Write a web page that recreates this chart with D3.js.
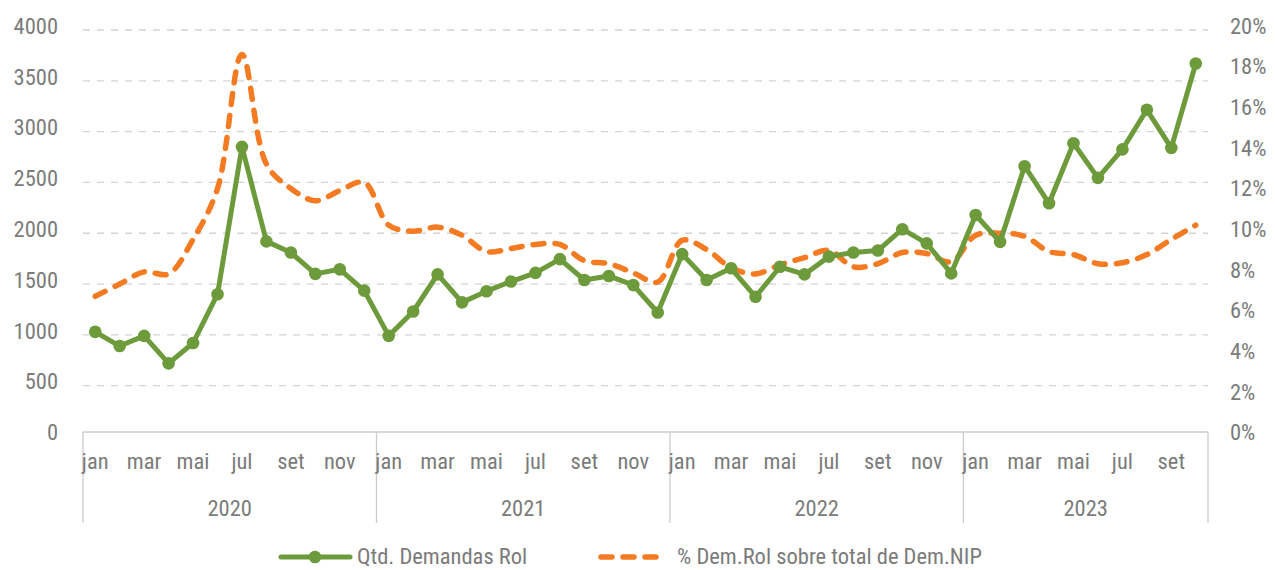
<!DOCTYPE html>
<html>
<head>
<meta charset="utf-8">
<script src="https://cdn.jsdelivr.net/npm/d3@7"></script>
<style>
  body { margin: 0; background: #fff; }
  text { font-family: "Liberation Sans Narrow", "Arial Narrow", "Roboto Condensed", sans-serif; fill: #7b7b7b; }
</style>
</head>
<body>
<div id="container"></div>
<script>
/* chart data */
var months = ["jan","fev","mar","abr","mai","jun","jul","ago","set","out","nov","dez"];
var years = ["2020","2021","2022","2023"];
var lastYearMonths = 10;  // 2023 goes up to out

// Qtd. Demandas Rol (left axis)
var qtd = [1030, 890, 990, 720, 920, 1400, 2850, 1920, 1810, 1600, 1645, 1435,
           990, 1230, 1595, 1320, 1430, 1525, 1610, 1745, 1540, 1580, 1490, 1220,
           1795, 1540, 1655, 1375, 1670, 1595, 1770, 1810, 1830, 2040, 1900, 1605,
           2180, 1915, 2660, 2295, 2885, 2545, 2825, 3215, 2840, 3670];

// % Dem.Rol sobre total de Dem.NIP (right axis)
var pct = [0.069, 0.075, 0.081, 0.080, 0.097, 0.122, 0.188, 0.134, 0.122, 0.116, 0.121, 0.125,
           0.104, 0.101, 0.103, 0.099, 0.091, 0.0925, 0.0945, 0.0945, 0.0865, 0.085, 0.0805, 0.076,
           0.0965, 0.092, 0.083, 0.080, 0.0845, 0.088, 0.0915, 0.0835, 0.085, 0.0905, 0.090, 0.086,
           0.099, 0.100, 0.0985, 0.091, 0.0895, 0.085, 0.0855, 0.0895, 0.097, 0.104];

var leftTicks = d3.range(0, 4001, 500);
var rightTicks = d3.range(0, 0.201, 0.02);

var seriesNames = ["Qtd. Demandas Rol", "% Dem.Rol sobre total de Dem.NIP"];

/* categories: one per month */
var cats = [];
years.forEach(function(y, yi) {
  var n = (yi === years.length - 1) ? lastYearMonths : 12;
  for (var m = 0; m < n; ++m) cats.push({ year: y, month: months[m], m: m });
});

/* setup dimensions */
var width = 1275, height = 570;
var plot = { left: 83, right: 1208, top: 30, bottom: 436.5 };
var green = "#6d9b3c", orange = "#f47b22";
var fontSize = "22.5px";

var svg = d3.select("#container")
            .append("svg")
            .attr("width", width)
            .attr("height", height);

var x = d3.scaleBand()
          .domain(d3.range(cats.length))
          .range([plot.left, plot.right])
          .padding(0);
var cx = function(i) { return x(i) + x.bandwidth() / 2; };

var yL = d3.scaleLinear().domain([0, 4000]).range([plot.bottom, plot.top]);
var yR = d3.scaleLinear().domain([0, 0.20]).range([plot.bottom, plot.top]);

/* gridlines */
svg.append("g")
   .selectAll("line")
   .data(leftTicks.filter(function(d) { return d > 0; }))
   .enter().append("line")
     .attr("x1", plot.left)
     .attr("x2", plot.right)
     .attr("y1", function(d) { return yL(d); })
     .attr("y2", function(d) { return yL(d); })
     .attr("stroke", "#d4d4d4")
     .attr("stroke-width", 1.3)
     .attr("stroke-dasharray", "7,7");

/* left axis */
var gL = svg.append("g")
   .attr("transform", "translate(" + 58 + ",-4)")
   .call(d3.axisLeft(yL).tickValues(leftTicks).tickFormat(d3.format("d")).tickSize(0).tickPadding(0));
gL.select(".domain").remove();
gL.selectAll("text").style("font-size", fontSize).attr("fill", "#7b7b7b");

/* right axis */
var gR = svg.append("g")
   .attr("transform", "translate(" + 1230 + ",-4)")
   .call(d3.axisRight(yR).tickValues(rightTicks).tickFormat(d3.format(".0%")).tickSize(0).tickPadding(0));
gR.select(".domain").remove();
gR.selectAll("text").style("font-size", fontSize).attr("fill", "#7b7b7b");

/* category axis box */
var axisY = 432, boxBottom = 523;
svg.append("line")
   .attr("x1", plot.left).attr("x2", plot.right)
   .attr("y1", axisY).attr("y2", axisY)
   .attr("stroke", "#cccccc").attr("stroke-width", 1.3);

var sepIdx = [];
cats.forEach(function(c, i) { if (c.m === 0) sepIdx.push(i); });
svg.append("g")
   .selectAll("line")
   .data(sepIdx.concat([cats.length]))
   .enter().append("line")
     .attr("x1", function(i) { return i < cats.length ? x(i) : plot.right; })
     .attr("x2", function(i) { return i < cats.length ? x(i) : plot.right; })
     .attr("y1", axisY)
     .attr("y2", boxBottom)
     .attr("stroke", "#cccccc")
     .attr("stroke-width", 1.3);

/* month labels */
var gX = svg.append("g")
   .attr("transform", "translate(0," + 453 + ")")
   .call(d3.axisBottom(x)
     .tickValues(d3.range(0, cats.length, 2))
     .tickFormat(function(i) { return cats[i].month; })
     .tickSize(0).tickPadding(0));
gX.select(".domain").remove();
gX.selectAll("text").style("font-size", fontSize).attr("fill", "#7b7b7b");

/* year labels */
svg.append("g")
   .selectAll("text")
   .data(years)
   .enter().append("text")
     .attr("x", function(y) {
       var idx = cats.map(function(c) { return c.year; });
       var a = idx.indexOf(y), b = idx.lastIndexOf(y);
       return (x(a) + x(b) + x.bandwidth()) / 2;
     })
     .attr("y", 516)
     .attr("text-anchor", "middle")
     .style("font-size", fontSize)
     .text(function(y) { return y; });

/* % series (smoothed, dashed) */
svg.append("path")
   .datum(pct)
   .attr("fill", "none")
   .attr("stroke", orange)
   .attr("stroke-width", 5.5)
   .attr("stroke-linecap", "round")
   .attr("stroke-dasharray", "11,11")
   .attr("d", d3.line()
     .x(function(d, i) { return cx(i); })
     .y(function(d) { return yR(d); })
     .curve(d3.curveCatmullRom));

/* Qtd series */
svg.append("path")
   .datum(qtd)
   .attr("fill", "none")
   .attr("stroke", green)
   .attr("stroke-width", 5)
   .attr("stroke-linejoin", "round")
   .attr("d", d3.line()
     .x(function(d, i) { return cx(i); })
     .y(function(d) { return yL(d); }));

svg.append("g")
   .selectAll("circle")
   .data(qtd)
   .enter().append("circle")
     .attr("cx", function(d, i) { return cx(i); })
     .attr("cy", function(d) { return yL(d); })
     .attr("r", 6.3)
     .attr("fill", green);

/* legend */
var legY = 557;
var leg = svg.append("g");
leg.append("line")
   .attr("x1", 281).attr("x2", 350).attr("y1", legY).attr("y2", legY)
   .attr("stroke", green).attr("stroke-width", 5).attr("stroke-linecap", "round");
leg.append("circle")
   .attr("cx", 315).attr("cy", legY).attr("r", 6.3).attr("fill", green);
leg.append("text")
   .attr("x", 357).attr("y", legY + 7)
   .style("font-size", fontSize)
   .text(seriesNames[0]);
leg.append("line")
   .attr("x1", 601).attr("x2", 664).attr("y1", legY).attr("y2", legY)
   .attr("stroke", orange).attr("stroke-width", 5.5).attr("stroke-linecap", "round")
   .attr("stroke-dasharray", "11,11");
leg.append("text")
   .attr("x", 677).attr("y", legY + 7)
   .style("font-size", fontSize)
   .text(seriesNames[1]);
</script>
</body>
</html>
